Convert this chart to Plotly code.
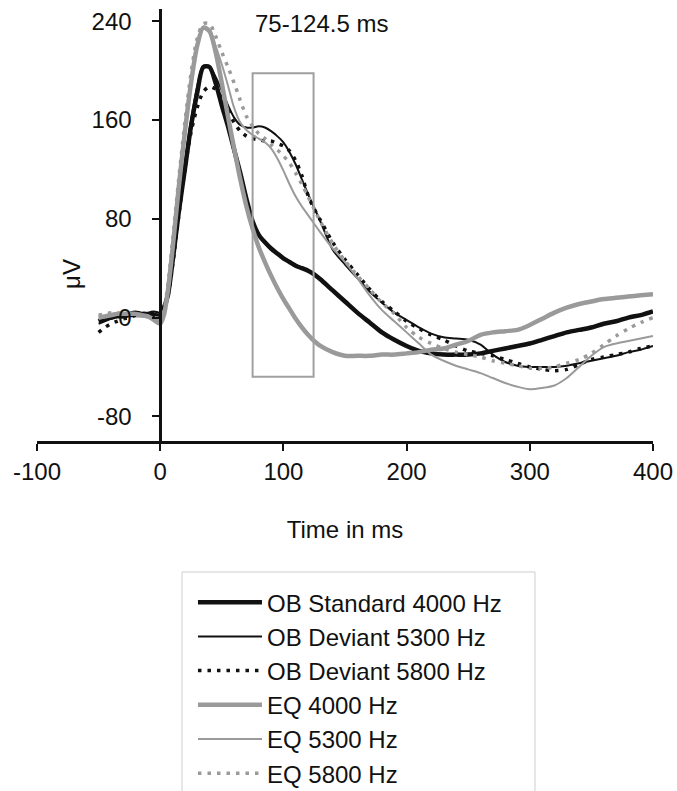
import plotly.graph_objects as go

# ---- data ----
time_ms = [-50, -45, -40, -35, -30, -25, -20, -15, -10, -5, 0, 3, 6, 10, 15, 20, 25, 30, 35, 40,
           45, 50, 55, 60, 65, 70, 75, 80, 85, 90, 95, 100, 105, 110, 115, 120, 125, 130, 140, 150,
           160, 170, 180, 190, 200, 210, 220, 230, 240, 250, 260, 270, 280, 290, 300, 310, 320, 330,
           340, 350, 360, 370, 380, 390, 400]

ob_standard_4000 = [-3, -1, 0, 1, 1, 2, 2, 2, 2, 2, 2, 8, 17, 45, 85, 120, 155, 182, 203, 203,
                    190, 172, 155, 136, 117, 96, 78, 67, 61, 56, 52, 48, 45, 42, 40, 38, 35, 31, 22, 13,
                    4, -4, -12, -18, -23, -27, -29, -30, -30, -30, -29, -27, -25, -23, -21, -18, -15, -12,
                    -10, -8, -5, -3, 0, 2, 5]

ob_deviant_5300 = [-5, -3, -1, 1, 2, 4, 5, 4, 4, 5, 4, 9, 20, 50, 90, 126, 160, 187, 204, 203,
                   195, 184, 172, 162, 156, 154, 154, 155, 154, 151, 147, 142, 134, 124, 112, 100, 89, 78, 55, 43,
                   32, 21, 12, 4, -2, -8, -13, -16, -17, -18, -22, -30, -36, -39, -40, -40, -40, -39,
                   -37, -35, -33, -31, -28, -26, -23]

ob_deviant_5800 = [-12, -8, -5, -3, -1, 0, 2, 3, 4, 4, 4, 7, 16, 42, 82, 120, 150, 170, 183, 187,
                   185, 178, 168, 158, 151, 147, 145, 144, 143, 143, 141, 139, 135, 127, 115, 99, 88, 79, 61, 47,
                   35, 23, 13, 5, -3, -9, -14, -18, -23, -27, -29, -31, -34, -37, -40, -42, -43, -42,
                   -38, -34, -32, -30, -28, -25, -23]

eq_4000 = [0, 1, 2, 3, 3, 3, 3, 2, 1, -2, -5, 2, 20, 55, 105, 150, 190, 220, 235, 232,
           215, 190, 163, 137, 112, 90, 72, 57, 45, 34, 24, 15, 7, -1, -8, -14, -19, -23, -28, -31,
           -31, -31, -30, -30, -29, -28, -26, -25, -22, -19, -14, -12, -11, -10, -6, -1, 4, 8,
           11, 13, 15, 16, 17, 18, 19]

eq_5300 = [-1, 0, 1, 2, 2, 2, 2, 1, 0, -1, -2, 5, 22, 58, 108, 153, 192, 222, 234, 231,
           220, 205, 188, 170, 158, 152, 148, 145, 142, 137, 129, 119, 108, 98, 90, 83, 76, 69, 56, 45,
           32, 18, 6, -3, -12, -21, -30, -35, -39, -42, -45, -49, -53, -56, -58, -57, -55, -49,
           -40, -31, -24, -21, -19, -17, -15]

eq_5800 = [2, 3, 4, 4, 3, 3, 2, 2, 1, 0, 0, 6, 25, 62, 112, 158, 198, 226, 238, 238,
           228, 215, 203, 190, 176, 163, 155, 149, 145, 140, 136, 131, 125, 117, 108, 98, 88, 78, 60, 46,
           34, 23, 12, 3, -8, -16, -21, -25, -28, -30, -32, -35, -37, -39, -41, -41, -40, -37,
           -34, -29, -22, -15, -9, -4, 0]

series_names = ["OB Standard 4000 Hz", "OB Deviant 5300 Hz", "OB Deviant 5800 Hz",
                "EQ 4000 Hz", "EQ 5300 Hz", "EQ 5800 Hz"]
series_values = [ob_standard_4000, ob_deviant_5300, ob_deviant_5800, eq_4000, eq_5300, eq_5800]

window_start, window_end = 75, 124.5
window_low, window_high = -48, 198
window_label = "75-124.5 ms"

x_ticks = [-100, 0, 100, 200, 300, 400]
x_tick_text = ["-100", "0", "100", "200", "300", "400"]
y_ticks = [-80, 0, 80, 160, 240]
y_tick_text = ["-80", "0", "80", "160", "240"]

# ---- styles ----
BLACK = "#111111"
GRAY = "#9a9a9a"
styles = [
    dict(color=BLACK, width=4.5, dash="solid"),
    dict(color=BLACK, width=2, dash="solid"),
    dict(color=BLACK, width=3.5, dash="3.5px,6px"),
    dict(color=GRAY, width=4.5, dash="solid"),
    dict(color=GRAY, width=2, dash="solid"),
    dict(color=GRAY, width=3.5, dash="3.5px,6px"),
]

FONT = "Liberation Sans, Arial, sans-serif"
FS = 24

fig = go.Figure()
for name, vals, st in zip(series_names, series_values, styles):
    fig.add_trace(go.Scatter(
        x=time_ms, y=vals, name=name, mode="lines",
        line=dict(color=st["color"], width=st["width"], dash=st["dash"],
                  shape="spline", smoothing=0.8),
    ))

# analysis window
fig.add_shape(type="rect", xref="x", yref="y",
              x0=window_start, x1=window_end, y0=window_low, y1=window_high,
              line=dict(color="#a0a0a0", width=2), fillcolor="rgba(0,0,0,0)")

# legend frame (extends past the bottom edge as in the reference)
fig.add_shape(type="rect", xref="paper", yref="paper",
              x0=0.2354, x1=0.8084, y0=-0.85, y1=-0.3032,
              line=dict(color="#cfcfcf", width=1), fillcolor="rgba(0,0,0,0)", layer="below")

fig.add_annotation(x=131, y=238, xref="x", yref="y", text=window_label,
                   showarrow=False, font=dict(size=FS, color=BLACK, family=FONT))

fig.add_annotation(x=0.057, y=0.387, xref="paper", yref="paper", text="μV",
                   textangle=-90, showarrow=False, xanchor="center", yanchor="middle",
                   font=dict(size=FS, color=BLACK, family=FONT))

fig.update_layout(
    width=677, height=791, autosize=False,
    margin=dict(l=37, r=24, t=9, b=350, autoexpand=False),
    paper_bgcolor="white", plot_bgcolor="white",
    font=dict(family=FONT, size=FS, color=BLACK),
    showlegend=True,
    legend=dict(x=0.2532, y=-0.322, xanchor="left", yanchor="top",
                borderwidth=0, bgcolor="rgba(0,0,0,0)",
                font=dict(size=FS, family=FONT, color=BLACK),
                itemwidth=64, tracegroupgap=0),
    xaxis=dict(range=[-100, 400], tickvals=x_ticks, ticktext=x_tick_text,
               ticks="outside", ticklen=7, ticklabeloverflow="allow",
               tickwidth=2, tickcolor=BLACK, showline=True, linecolor=BLACK, linewidth=2.5,
               showgrid=False, zeroline=False,
               title=dict(text="Time in ms", standoff=38, font=dict(size=FS))),
    yaxis=dict(range=[-100, 250], tickvals=y_ticks, ticktext=y_tick_text,
               ticks="outside", ticklen=7, ticklabeloverflow="allow",
               tickwidth=2, tickcolor=BLACK, showline=True, linecolor=BLACK, linewidth=2.5,
               showgrid=False, zeroline=False, anchor="free", position=0.2,
               ticklabelstandoff=16),
)

# remove the default 8px page margin so the figure fills the window exactly
fig.write_html("out.html",
               config={"displayModeBar": False},
               post_script="document.body.style.margin='0';document.body.style.overflow='hidden';")
